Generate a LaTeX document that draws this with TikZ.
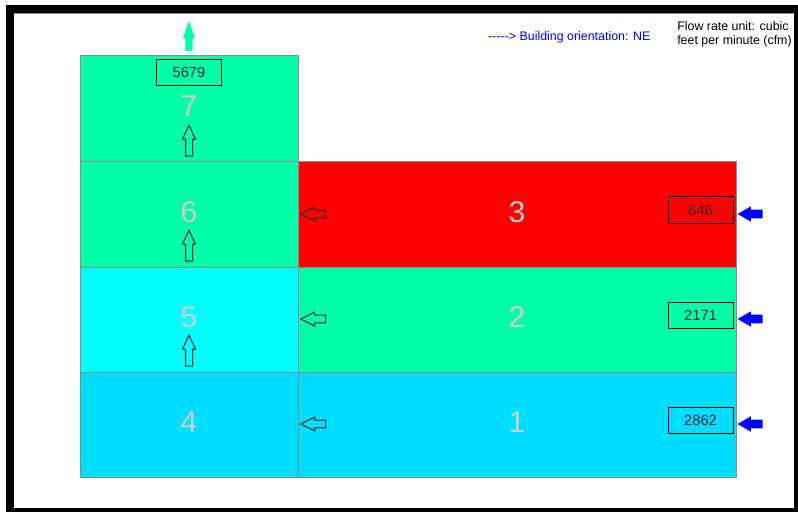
\documentclass[tikz,border=0pt]{standalone}
\usepackage{fontspec}
\setmainfont{Liberation Sans}
\usetikzlibrary{shapes.arrows}
\definecolor{springzone}{RGB}{0,255,170}
\definecolor{cyanzone}{RGB}{0,255,255}
\definecolor{skyzone}{RGB}{0,222,255}
\definecolor{redzone}{RGB}{255,0,0}
\definecolor{zonelabel}{RGB}{205,205,205}
\definecolor{zoneline}{RGB}{140,140,140}

\begin{document}
\begin{tikzpicture}[x=0.75pt,y=-0.75pt]
\tikzset{
  zone/.style={draw=zoneline,line width=0.75pt,minimum height=78.75pt,
    inner sep=0pt,text depth=3.5pt,text=zonelabel,
    font=\fontsize{22.5}{26}\selectfont},
  leftzone/.style={zone,minimum width=163.5pt},
  rightzone/.style={zone,minimum width=328.5pt},
  flowbox/.style={draw=black,line width=0.75pt,minimum width=48.75pt,
    minimum height=19.5pt,inner sep=0pt,text=black!85,
    font=\fontsize{11}{13}\selectfont},
  hollow/.style={single arrow,draw=black!85,line width=0.75pt,anchor=tip,
    minimum width=0pt},
  hollowup/.style={hollow,inner sep=2.25pt,single arrow head extend=2.25pt,
    single arrow tip angle=50,minimum height=23.25pt,shape border rotate=90},
  hollowleft/.style={hollow,inner sep=2.6pt,single arrow head extend=2.25pt,
    single arrow tip angle=53,minimum height=18.75pt,shape border rotate=180},
  inflow/.style={single arrow,fill=blue,draw=none,anchor=tip,minimum width=0pt,
    inner sep=3pt,single arrow head extend=2.6pt,single arrow tip angle=60,
    minimum height=18.75pt,shape border rotate=180},
  exhaust/.style={single arrow,fill=springzone,draw=none,anchor=tip,
    minimum width=0pt,inner sep=2.6pt,single arrow head extend=1.9pt,
    single arrow tip angle=39,minimum height=22.5pt,shape border rotate=90},
  note/.style={anchor=west,inner sep=0pt,font=\fontsize{9.3}{10.5}\selectfont}
}

% window frame
\useasboundingbox (0,0) rectangle (798,513);
\fill[black] (6,5) rectangle (798,512);
\fill[white] (14,13) rectangle (794,508);
\draw[zoneline] (14,13.5) -- (794,13.5);

% zones
\node[leftzone,fill=springzone,minimum height=79.5pt] (z7) at (189,109) {7};
\node[leftzone,fill=springzone] (z6) at (189,214.5) {6};
\node[leftzone,fill=cyanzone] (z5) at (189,319.5) {5};
\node[leftzone,fill=skyzone] (z4) at (189,424.5) {4};
\node[rightzone,fill=redzone] (z3) at (517,214.5) {3};
\node[rightzone,fill=springzone] (z2) at (517,319.5) {2};
\node[rightzone,fill=skyzone] (z1) at (517,424.5) {1};

% flow rates
\node[flowbox] (q7) at (189,72.5) {5679};
\node[flowbox] (q3) at (700.5,210) {646};
\node[flowbox] (q2) at (700.5,315) {2171};
\node[flowbox] (q1) at (700.5,420) {2862};

% airflow between zones
\node[hollowup] (up7) at (189,124) {};
\node[hollowup] (up6) at (189,229) {};
\node[hollowup] (up5) at (189,334) {};
\node[hollowleft] (left3) at (299.5,214) {};
\node[hollowleft] (left2) at (299.5,319) {};
\node[hollowleft] (left1) at (299.5,424) {};

% supply and exhaust
\node[inflow] (in3) at (737,214) {};
\node[inflow] (in2) at (737,319) {};
\node[inflow] (in1) at (737,424) {};
\node[exhaust] (out7) at (189,20) {};

% legend
\node[note,text=blue] (orient) at (488,37)
  {\mbox{-{}-{}-{}-{}->} Building orientation: NE};
\node[note,align=left] (unit) at (677,34)
  {Flow rate unit: cubic\\feet per minute (cfm)};
\end{tikzpicture}
\end{document}
